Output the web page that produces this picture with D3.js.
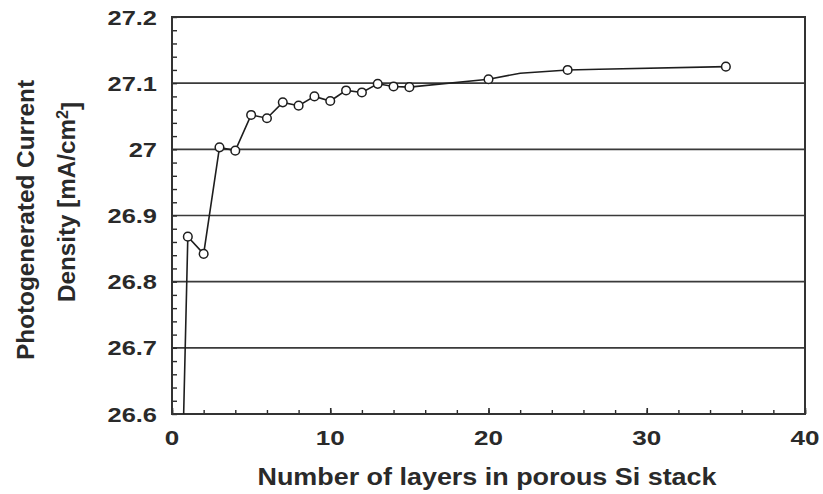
<!DOCTYPE html>
<html>
<head>
<meta charset="utf-8">
<script src="https://cdn.jsdelivr.net/npm/d3@7/dist/d3.min.js"></script>
<style>
  html, body { margin: 0; padding: 0; background: #fff; }
  svg text { font-family: "Liberation Sans", Arial, sans-serif; font-weight: bold; fill: #2a2a2a; }
</style>
</head>
<body>
<svg id="chart" width="823" height="494"></svg>
<script>
// Photogenerated current density vs. number of porous Si layers
const lineLayers  = [0, 1, 2, 3, 4, 5, 6, 7, 8, 9, 10, 11, 12, 13, 14, 15, 20, 22, 25, 27, 35];
const lineDensity = [25.85, 26.868, 26.842, 27.003, 26.998, 27.052, 27.047, 27.071, 27.066, 27.080, 27.073,
                     27.089, 27.086, 27.099, 27.095, 27.094, 27.106, 27.115, 27.120, 27.121, 27.125];
// layer counts that carry a marker
const markedLayers = [1, 2, 3, 4, 5, 6, 7, 8, 9, 10, 11, 12, 13, 14, 15, 20, 25, 35];

const xTicks = [0, 10, 20, 30, 40];
const yTicks = [26.6, 26.7, 26.8, 26.9, 27.0, 27.1, 27.2];
const yTickLabels = ["26.6", "26.7", "26.8", "26.9", "27", "27.1", "27.2"];

const svg = d3.select("#chart");
const m = { left: 172, right: 805, top: 17, bottom: 414 };

const x = d3.scaleLinear().domain([0, 40]).range([m.left, m.right]);
const y = d3.scaleLinear().domain([26.6, 27.2]).range([m.bottom, m.top]);

const ink = "#2a2a2a";

// widen glyphs horizontally by a factor, keeping the anchor
function widen(sel, factor) {
  sel.each(function () {
    const w = this.getComputedTextLength();
    d3.select(this).attr("textLength", w * factor).attr("lengthAdjust", "spacingAndGlyphs");
  });
}

svg.append("defs").append("clipPath").attr("id", "plotClip")
  .append("rect").attr("x", m.left).attr("y", m.top)
  .attr("width", m.right - m.left).attr("height", m.bottom - m.top);

// horizontal grid lines
svg.append("g").selectAll("line")
  .data(yTicks.slice(1, -1))
  .join("line")
  .attr("x1", m.left).attr("x2", m.right)
  .attr("y1", d => y(d)).attr("y2", d => y(d))
  .attr("stroke", "#3a3a3a").attr("stroke-width", 1.6);

// minor ticks on the y axis (inward)
const yMinor = d3.range(0, 31).map(i => 26.6 + i * 0.02);
svg.append("g")
  .attr("transform", `translate(${m.left},0)`)
  .call(d3.axisRight(y).tickValues(yMinor).tickSize(5).tickFormat(""))
  .call(g => g.select(".domain").remove())
  .call(g => g.selectAll("line").attr("stroke", ink).attr("stroke-width", 1.4));

// minor ticks on the x axis (inward)
const xMinor = d3.range(0, 41, 2);
svg.append("g")
  .attr("transform", `translate(0,${m.bottom})`)
  .call(d3.axisTop(x).tickValues(xMinor).tickSize(4).tickFormat(""))
  .call(g => g.select(".domain").remove())
  .call(g => g.selectAll("line").attr("stroke", ink).attr("stroke-width", 1.4));
svg.append("g")
  .attr("transform", `translate(0,${m.bottom})`)
  .call(d3.axisTop(x).tickValues(xTicks).tickSize(6).tickFormat(""))
  .call(g => g.select(".domain").remove())
  .call(g => g.selectAll("line").attr("stroke", ink).attr("stroke-width", 1.6));

// plot frame
svg.append("rect")
  .attr("x", m.left).attr("y", m.top)
  .attr("width", m.right - m.left).attr("height", m.bottom - m.top)
  .attr("fill", "none").attr("stroke", "#333").attr("stroke-width", 2);

// tick labels
svg.append("g").selectAll("text")
  .data(yTicks)
  .join("text")
  .attr("x", 157).attr("y", d => y(d))
  .attr("dy", "0.36em")
  .attr("text-anchor", "end")
  .attr("font-size", 21)
  .text((d, i) => yTickLabels[i])
  .call(widen, 1.21);

svg.append("g").selectAll("text")
  .data(xTicks)
  .join("text")
  .attr("x", d => x(d)).attr("y", 445)
  .attr("text-anchor", "middle")
  .attr("font-size", 21)
  .text(d => d)
  .call(widen, 1.24);

// axis titles
svg.append("text")
  .attr("x", 487).attr("y", 485)
  .attr("text-anchor", "middle")
  .attr("font-size", 23)
  .attr("textLength", 459).attr("lengthAdjust", "spacingAndGlyphs")
  .text("Number of layers in porous Si stack");

svg.append("text")
  .attr("transform", "translate(34,220) rotate(-90)")
  .attr("text-anchor", "middle")
  .attr("font-size", 24)
  .attr("textLength", 280).attr("lengthAdjust", "spacingAndGlyphs")
  .text("Photogenerated Current");

const yTitle2 = svg.append("text")
  .attr("transform", "translate(75,202) rotate(-90)")
  .attr("text-anchor", "middle")
  .attr("font-size", 24);
yTitle2.append("tspan").text("Density [mA/cm");
yTitle2.append("tspan").attr("dy", "-0.45em").attr("font-size", 16).text("2");
yTitle2.append("tspan").attr("dy", "0.45em").text("]");
yTitle2.call(widen, 223 / 200);
{
  const w = yTitle2.node().getComputedTextLength();
  yTitle2.attr("textLength", null);
  yTitle2.selectAll("tspan").each(function () {
    const tw = this.getComputedTextLength();
    d3.select(this).attr("textLength", tw * 223 / w).attr("lengthAdjust", "spacingAndGlyphs");
  });
}

// data line
const pts = lineLayers.map((v, i) => [v, lineDensity[i]]);
svg.append("path")
  .datum(pts)
  .attr("clip-path", "url(#plotClip)")
  .attr("fill", "none")
  .attr("stroke", "#1e1e1e")
  .attr("stroke-width", 1.6)
  .attr("d", d3.line().x(d => x(d[0])).y(d => y(d[1])));

// markers
const marked = pts.filter(p => markedLayers.includes(p[0]));
svg.append("g").selectAll("circle")
  .data(marked)
  .join("circle")
  .attr("cx", d => x(d[0])).attr("cy", d => y(d[1]))
  .attr("r", 4.3)
  .attr("fill", "#fff")
  .attr("stroke", "#1e1e1e")
  .attr("stroke-width", 1.5);
</script>
</body>
</html>
